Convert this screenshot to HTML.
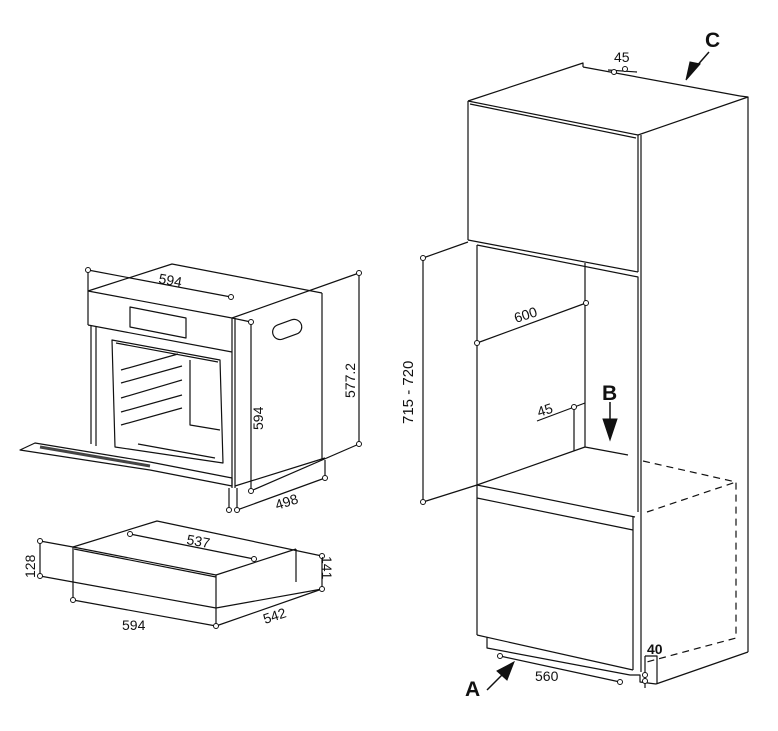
<!DOCTYPE html>
<html><head><meta charset="utf-8"><style>
html,body{margin:0;padding:0;background:#fff}
svg{display:block}
text{font-family:"Liberation Sans",sans-serif;fill:#111}
</style></head><body>
<svg width="778" height="731" viewBox="0 0 778 731" xmlns="http://www.w3.org/2000/svg">
<g fill="none" stroke="#111" stroke-width="1.2" stroke-linejoin="round">
<!-- OVEN -->
<line x1="88" y1="270" x2="231" y2="297"/>
<line x1="88" y1="270" x2="88" y2="291"/>
<polyline points="88,291 172,264 322,293"/>
<polyline points="88,291 232,318 359,273"/>
<line x1="88" y1="291" x2="88" y2="325"/>
<line x1="88" y1="325" x2="232" y2="352"/>
<line x1="232" y1="318" x2="232" y2="488"/>
<line x1="235" y1="318" x2="235" y2="488"/>
<line x1="322" y1="293" x2="322" y2="460"/>
<line x1="325" y1="460" x2="325" y2="478"/>
<line x1="235" y1="486" x2="325" y2="458"/>
<line x1="359" y1="273" x2="359" y2="444"/>
<line x1="253" y1="490" x2="359" y2="444"/>
<line x1="251" y1="322" x2="251" y2="491"/>
<line x1="232" y1="318" x2="251" y2="322"/>
<line x1="237" y1="510" x2="325" y2="478"/>
<line x1="229" y1="488" x2="229" y2="510"/>
<line x1="237" y1="488" x2="237" y2="510"/>
<polygon points="130,307 186,318 186,338 130,327"/>
<rect x="272" y="322" width="30" height="15" rx="7.5" transform="rotate(-20 287 329)"/>
<line x1="91" y1="326" x2="91" y2="444"/>
<line x1="96" y1="327" x2="96" y2="446"/>
<path d="M112 340 L220 360 L223 463 L115 447 Z"/>
<path d="M116 343 L218 362"/>
<line x1="121" y1="370" x2="178" y2="354"/>
<line x1="121" y1="383" x2="182" y2="366"/>
<line x1="121" y1="398" x2="182" y2="380"/>
<line x1="121" y1="412" x2="182" y2="395"/>
<line x1="121" y1="425" x2="182" y2="408"/>
<line x1="138" y1="444" x2="215" y2="458"/>
<path d="M190 360 L190 425 L220 430"/>
<path d="M20 450 L35 443 L150 462 L232 478 L232 486 L150 470 Z"/>
<path d="M40 447 L150 466" stroke-width="3" stroke="#444"/>
<!-- DRAWER -->
<polyline points="73,547 157,521 322,556"/>
<line x1="73" y1="547" x2="216" y2="575"/>
<line x1="74" y1="549" x2="216" y2="577"/>
<line x1="216" y1="575" x2="296" y2="549"/>
<line x1="296" y1="549" x2="296" y2="582"/>
<line x1="73" y1="547" x2="73" y2="600"/>
<line x1="216" y1="575" x2="216" y2="626"/>
<line x1="40" y1="576" x2="216" y2="608"/>
<line x1="216" y1="608" x2="322" y2="589"/>
<line x1="40" y1="541" x2="73" y2="547"/>
<line x1="40" y1="541" x2="40" y2="576"/>
<line x1="322" y1="556" x2="322" y2="589"/>
<line x1="73" y1="600" x2="216" y2="626"/>
<line x1="216" y1="626" x2="322" y2="589"/>
<line x1="130" y1="534" x2="254" y2="559"/>
<!-- CABINET -->
<polyline points="468,101 583,63 583,67"/>
<line x1="583" y1="67" x2="740" y2="96"/>
<polyline points="468,101 638,135 748,97 740,96"/>
<line x1="470" y1="104" x2="636" y2="138"/>
<line x1="468" y1="101" x2="468" y2="240"/>
<line x1="468" y1="240" x2="638" y2="272"/>
<line x1="638" y1="135" x2="638" y2="272"/>
<line x1="641" y1="135" x2="641" y2="672"/>
<line x1="748" y1="97" x2="748" y2="652"/>
<line x1="748" y1="652" x2="656" y2="684"/>
<line x1="477" y1="245" x2="477" y2="635"/>
<polyline points="477,245 638,277 638,512"/>
<line x1="585" y1="263" x2="585" y2="447"/>
<line x1="423" y1="258" x2="468" y2="242"/>
<line x1="423" y1="258" x2="423" y2="502"/>
<line x1="423" y1="502" x2="477" y2="485"/>
<line x1="477" y1="343" x2="586" y2="303"/>
<line x1="537" y1="421" x2="585" y2="403"/>
<line x1="574" y1="407" x2="574" y2="451"/>
<polyline points="477,485 585,447 628,455"/>
<line x1="477" y1="485" x2="635" y2="517"/>
<line x1="477" y1="498" x2="633" y2="530"/>
<line x1="633" y1="517" x2="633" y2="670"/>
<line x1="477" y1="635" x2="633" y2="670"/>
<polyline points="487,637 487,648 630,675 640,675 640,682 656,684"/>
<line x1="500" y1="656" x2="620" y2="682"/>
<polyline points="645,656 657,656 657,684"/>
<line x1="645" y1="656" x2="645" y2="688"/>
<line x1="608" y1="70" x2="637" y2="72"/>
<g stroke-dasharray="7,5">
<polyline points="643,461 736,482 736,638 643,663"/>
<line x1="647" y1="512" x2="736" y2="482"/>
</g>
</g>
<g fill="#fff" stroke="#111" stroke-width="1">
<circle cx="88" cy="270" r="2.5"/><circle cx="231" cy="297" r="2.5"/>
<circle cx="359" cy="273" r="2.5"/><circle cx="359" cy="444" r="2.5"/>
<circle cx="251" cy="322" r="2.5"/><circle cx="251" cy="491" r="2.5"/>
<circle cx="325" cy="478" r="2.5"/><circle cx="237" cy="510" r="2.5"/><circle cx="229" cy="510" r="2.5"/>
<circle cx="40" cy="541" r="2.5"/><circle cx="40" cy="576" r="2.5"/>
<circle cx="130" cy="534" r="2.5"/><circle cx="254" cy="559" r="2.5"/>
<circle cx="322" cy="556" r="2.5"/><circle cx="322" cy="589" r="2.5"/>
<circle cx="73" cy="600" r="2.5"/><circle cx="216" cy="626" r="2.5"/>
<circle cx="423" cy="258" r="2.5"/><circle cx="423" cy="502" r="2.5"/>
<circle cx="477" cy="343" r="2.5"/><circle cx="586" cy="303" r="2.5"/>
<circle cx="574" cy="407" r="2.5"/>
<circle cx="614" cy="72" r="2.5"/><circle cx="625" cy="69" r="2.5"/>
<circle cx="500" cy="656" r="2.5"/><circle cx="620" cy="682" r="2.5"/>
<circle cx="645" cy="675" r="2.5"/><circle cx="645" cy="681" r="2.5"/>
</g>
<g font-size="14">
<text x="158" y="283" transform="rotate(10 158 283)">594</text>
<text x="263" y="430" transform="rotate(-90 263 430)">594</text>
<text x="355" y="398" transform="rotate(-90 355 398)">577.2</text>
<text x="277" y="510" transform="rotate(-18 277 510)">498</text>
<text x="35" y="578" transform="rotate(-90 35 578)">128</text>
<text x="186" y="544" transform="rotate(10 186 544)">537</text>
<text x="322" y="556" transform="rotate(90 322 556)">141</text>
<text x="122" y="630">594</text>
<text x="265" y="624" transform="rotate(-18 265 624)">542</text>
<text x="413" y="424" transform="rotate(-90 413 424)" font-size="15">715 - 720</text>
<text x="516" y="323" transform="rotate(-18 516 323)">600</text>
<text x="539" y="417" transform="rotate(-18 539 417)">45</text>
<text x="614" y="62">45</text>
<text x="535" y="681">560</text>
</g>
<g font-weight="bold" font-size="21">
<text x="705" y="47">C</text>
<text x="602" y="400">B</text>
<text x="465" y="696">A</text>
<text x="647" y="654" font-size="14">40</text>
</g>
<g fill="#111" stroke="#111" stroke-width="1.5">
<line x1="709" y1="52" x2="695" y2="68"/><polygon points="700,64 686,80 690,62" stroke-width="1"/>
<line x1="610" y1="402" x2="610" y2="425"/><polygon points="603,419 617,419 610,440" stroke-width="1"/>
<line x1="487" y1="690" x2="503" y2="674"/><polygon points="497,671 514,662 507,680" stroke-width="1"/>
</g>
</svg>
</body></html>
